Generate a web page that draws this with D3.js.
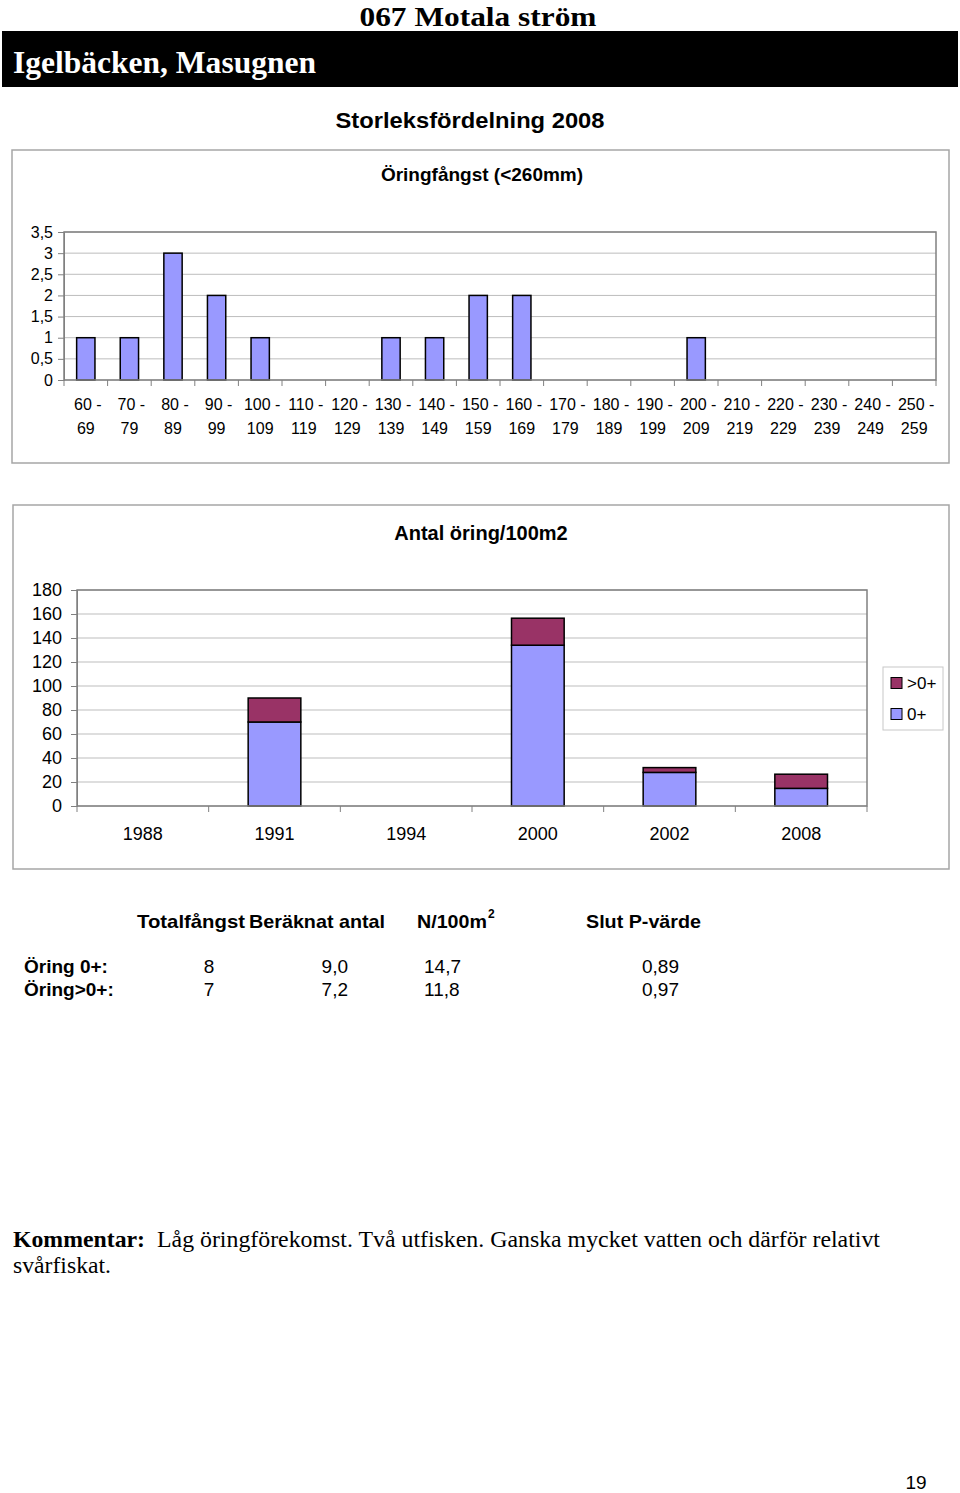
<!DOCTYPE html>
<html><head><meta charset="utf-8">
<script src="https://cdn.jsdelivr.net/npm/d3@7"></script>
<style>
html,body{margin:0;padding:0;background:#fff;}
svg{display:block;}
</style></head>
<body>
<script>
// ---- data ----
const sizeClasses = ["60 - 69","70 - 79","80 - 89","90 - 99","100 - 109","110 - 119","120 - 129","130 - 139","140 - 149","150 - 159","160 - 169","170 - 179","180 - 189","190 - 199","200 - 209","210 - 219","220 - 229","230 - 239","240 - 249","250 - 259"];
const sizeCounts = [1,1,3,2,1,0,0,1,1,2,2,0,0,0,1,0,0,0,0,0];
const sizeTicks = [0,0.5,1,1.5,2,2.5,3,3.5];

const years = ["1988","1991","1994","2000","2002","2008"];
const youngDensity = [0,70,0,134,28,14.7];   // 0+
const olderDensity = [0,20,0,22.5,4,11.8];   // >0+
const densityTicks = [0,20,40,60,80,100,120,140,160,180];
const seriesNames = [">0+","0+"];

const tableHeaders = ["Totalfångst","Beräknat antal","N/100m","Slut P-värde"];
const tableRows = ["Öring 0+:","Öring>0+:"];
const totalCatch = ["8","7"];
const estimatedCount = ["9,0","7,2"];
const perArea = ["14,7","11,8"];
const pValue = ["0,89","0,97"];

const SANS = "'Liberation Sans', Arial, sans-serif";
const SERIF = "'Liberation Serif', 'Times New Roman', serif";
const C_YOUNG = "#9999FF", C_OLD = "#993366";

const svg = d3.select("body").append("svg").attr("width",960).attr("height",1493);
svg.append("rect").attr("width",960).attr("height",1493).attr("fill","#fff");

// ---- header ----
svg.append("text").attr("x",478).attr("y",25.5).attr("text-anchor","middle")
  .attr("font-family",SERIF).attr("font-weight","bold").attr("font-size",28)
  .attr("textLength",237).attr("lengthAdjust","spacingAndGlyphs").text("067 Motala ström");
svg.append("rect").attr("x",2).attr("y",31).attr("width",956).attr("height",56).attr("fill","#000");
svg.append("text").attr("x",13).attr("y",73)
  .attr("font-family",SERIF).attr("font-weight","bold").attr("font-size",31).attr("fill","#fff")
  .attr("textLength",303).attr("lengthAdjust","spacingAndGlyphs").text("Igelbäcken, Masugnen");
svg.append("text").attr("x",470).attr("y",128).attr("text-anchor","middle")
  .attr("font-family",SANS).attr("font-weight","bold").attr("font-size",22)
  .attr("textLength",269).attr("lengthAdjust","spacingAndGlyphs").text("Storleksfördelning 2008");

// ---- chart 1 ----
(function(){
  const box = {x:12,y:150,w:937,h:313};
  const g = svg.append("g");
  g.append("rect").attr("x",box.x).attr("y",box.y).attr("width",box.w).attr("height",box.h)
    .attr("fill","#fff").attr("stroke","#a6a6a6").attr("stroke-width",1.5);
  g.append("text").attr("x",482).attr("y",181).attr("text-anchor","middle")
    .attr("font-family",SANS).attr("font-weight","bold").attr("font-size",19).text("Öringfångst (<260mm)");
  const L=64,R=936,T=232,B=380;
  const x = d3.scaleBand().domain(sizeClasses).range([L,R]);
  const y = d3.scaleLinear().domain([0,3.5]).range([B,T]);
  g.append("g").selectAll("line").data(sizeTicks).join("line")
    .attr("x1",L).attr("x2",R).attr("y1",d=>y(d)).attr("y2",d=>y(d))
    .attr("stroke","#bdbdbd").attr("stroke-width",1);
  const bw = x.bandwidth()*0.42;
  g.append("g").selectAll("rect").data(sizeClasses.map((c,i)=>({c,v:sizeCounts[i]})).filter(d=>d.v>0)).join("rect")
    .attr("x",d=>x(d.c)+x.bandwidth()/2-bw/2).attr("width",bw)
    .attr("y",d=>y(d.v)).attr("height",d=>B-y(d.v))
    .attr("fill",C_YOUNG).attr("stroke","#000").attr("stroke-width",1.5);
  g.append("rect").attr("x",L).attr("y",T).attr("width",R-L).attr("height",B-T)
    .attr("fill","none").attr("stroke","#808080").attr("stroke-width",1.5);
  const ya = g.append("g").attr("transform",`translate(${L},0)`)
    .call(d3.axisLeft(y).tickValues(sizeTicks).tickSize(6).tickPadding(5).tickFormat(d=>String(d).replace(".",",")));
  ya.select(".domain").attr("stroke","#808080");
  ya.selectAll(".tick line").attr("stroke","#808080");
  ya.selectAll("text").attr("font-family",SANS).attr("font-size",16).attr("fill","#000");
  const bounds = sizeClasses.map(c=>x(c)).concat([R]);
  g.append("g").selectAll("line").data(bounds).join("line")
    .attr("x1",d=>d).attr("x2",d=>d).attr("y1",B).attr("y2",B+6).attr("stroke","#808080");
  const lab = g.append("g").selectAll("text").data(sizeClasses).join("text")
    .attr("text-anchor","middle").attr("font-family",SANS).attr("font-size",16).attr("fill","#000");
  lab.append("tspan").attr("x",d=>x(d)+x.bandwidth()/2+2).attr("y",410).text(d=>d.split(" - ")[0]+" -");
  lab.append("tspan").attr("x",d=>x(d)+x.bandwidth()/2).attr("y",434).text(d=>d.split(" - ")[1]);
})();

// ---- chart 2 ----
(function(){
  const box = {x:13,y:505,w:936,h:364};
  const g = svg.append("g");
  g.append("rect").attr("x",box.x).attr("y",box.y).attr("width",box.w).attr("height",box.h)
    .attr("fill","#fff").attr("stroke","#a6a6a6").attr("stroke-width",1.5);
  g.append("text").attr("x",481).attr("y",540).attr("text-anchor","middle")
    .attr("font-family",SANS).attr("font-weight","bold").attr("font-size",20).text("Antal öring/100m2");
  const L=77,R=867,T=590,B=806;
  const x = d3.scaleBand().domain(years).range([L,R]);
  const y = d3.scaleLinear().domain([0,180]).range([B,T]);
  g.append("g").selectAll("line").data(densityTicks).join("line")
    .attr("x1",L).attr("x2",R).attr("y1",d=>y(d)).attr("y2",d=>y(d))
    .attr("stroke","#bdbdbd").attr("stroke-width",1);
  const bw = x.bandwidth()*0.4;
  const data = years.map((yr,i)=>({yr,a:youngDensity[i],b:olderDensity[i]})).filter(d=>d.a+d.b>0);
  const bars = g.append("g");
  bars.selectAll("rect.y0").data(data).join("rect").attr("class","y0")
    .attr("x",d=>x(d.yr)+x.bandwidth()/2-bw/2).attr("width",bw)
    .attr("y",d=>y(d.a)).attr("height",d=>B-y(d.a))
    .attr("fill",C_YOUNG).attr("stroke","#000").attr("stroke-width",1.5);
  bars.selectAll("rect.y1").data(data).join("rect").attr("class","y1")
    .attr("x",d=>x(d.yr)+x.bandwidth()/2-bw/2).attr("width",bw)
    .attr("y",d=>y(d.a+d.b)).attr("height",d=>y(d.a)-y(d.a+d.b))
    .attr("fill",C_OLD).attr("stroke","#000").attr("stroke-width",1.5);
  g.append("rect").attr("x",L).attr("y",T).attr("width",R-L).attr("height",B-T)
    .attr("fill","none").attr("stroke","#808080").attr("stroke-width",1.5);
  const ya = g.append("g").attr("transform",`translate(${L},0)`)
    .call(d3.axisLeft(y).tickValues(densityTicks).tickSize(6).tickPadding(9));
  ya.select(".domain").attr("stroke","#808080");
  ya.selectAll(".tick line").attr("stroke","#808080");
  ya.selectAll("text").attr("font-family",SANS).attr("font-size",18).attr("fill","#000");
  const bounds = years.map(c=>x(c)).concat([R]);
  g.append("g").selectAll("line").data(bounds).join("line")
    .attr("x1",d=>d).attr("x2",d=>d).attr("y1",B).attr("y2",B+6).attr("stroke","#808080");
  g.append("g").selectAll("text").data(years).join("text")
    .attr("x",d=>x(d)+x.bandwidth()/2).attr("y",840).attr("text-anchor","middle")
    .attr("font-family",SANS).attr("font-size",18).attr("fill","#000").text(d=>d);
  const lg = g.append("g");
  lg.append("rect").attr("x",883).attr("y",667).attr("width",60).attr("height",63)
    .attr("fill","#fff").attr("stroke","#c8c8c8").attr("stroke-width",1);
  const cols = [C_OLD,C_YOUNG];
  seriesNames.forEach((n,i)=>{
    const cy = 683 + i*31;
    lg.append("rect").attr("x",891).attr("y",cy-5.5).attr("width",11).attr("height",11)
      .attr("fill",cols[i]).attr("stroke","#000").attr("stroke-width",1);
    lg.append("text").attr("x",907).attr("y",cy+6).attr("font-family",SANS).attr("font-size",17).text(n);
  });
})();

// ---- table ----
(function(){
  const g = svg.append("g").attr("font-family",SANS).attr("fill","#000");
  const hx = [137,249,417,586];
  const hw = [108,136,70,115];
  tableHeaders.forEach((h,i)=>{
    g.append("text").attr("x",hx[i]).attr("y",928).attr("font-weight","bold").attr("font-size",19)
      .attr("textLength",hw[i]).attr("lengthAdjust","spacingAndGlyphs").text(h);
  });
  g.append("text").attr("x",488).attr("y",918).attr("font-weight","bold").attr("font-size",12).text("2");
  tableRows.forEach((r,i)=>{
    const yy = 973 + i*23;
    g.append("text").attr("x",24).attr("y",yy).attr("font-weight","bold").attr("font-size",19).text(r);
    g.append("text").attr("x",209).attr("y",yy).attr("text-anchor","middle").attr("font-size",19).text(totalCatch[i]);
    g.append("text").attr("x",348).attr("y",yy).attr("text-anchor","end").attr("font-size",19).text(estimatedCount[i]);
    g.append("text").attr("x",424).attr("y",yy).attr("font-size",19).text(perArea[i]);
    g.append("text").attr("x",642).attr("y",yy).attr("font-size",19).text(pValue[i]);
  });
})();

// ---- comment ----
(function(){
  const g = svg.append("g").attr("font-family",SERIF).attr("fill","#000");
  g.append("text").attr("x",13).attr("y",1247).attr("font-weight","bold").attr("font-size",23)
    .attr("textLength",132).attr("lengthAdjust","spacingAndGlyphs").text("Kommentar:");
  g.append("text").attr("x",157).attr("y",1247).attr("font-size",23)
    .attr("textLength",723).attr("lengthAdjust","spacingAndGlyphs")
    .text("Låg öringförekomst. Två utfisken. Ganska mycket vatten och därför relativt");
  g.append("text").attr("x",13).attr("y",1273).attr("font-size",23)
    .attr("textLength",98).attr("lengthAdjust","spacingAndGlyphs").text("svårfiskat.");
  svg.append("text").attr("x",916).attr("y",1489).attr("text-anchor","middle")
    .attr("font-family",SANS).attr("font-size",19).text("19");
})();
</script>
</body></html>
